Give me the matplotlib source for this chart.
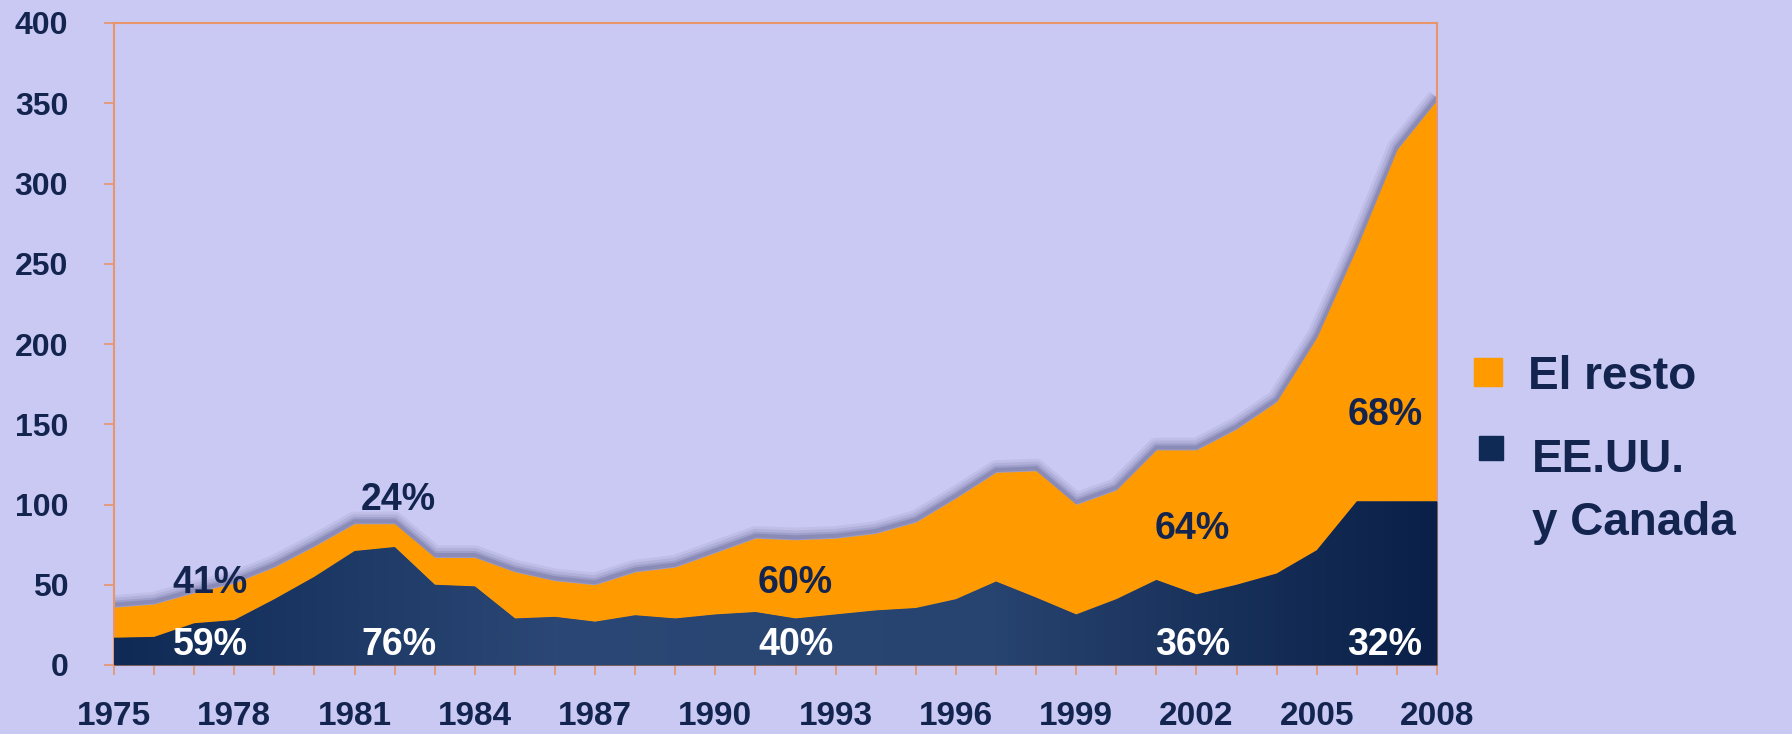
import numpy as np
import matplotlib
matplotlib.use('Agg')
import matplotlib.pyplot as plt
from matplotlib.colors import LinearSegmentedColormap

plt.rcParams['font.family'] = ['Liberation Sans', 'DejaVu Sans']
plt.rcParams['font.weight'] = 'bold'

years = list(range(1975, 2009))
# EE.UU. y Canada
usa = [17, 17.5, 26, 28, 41, 55, 71, 73.5, 50, 49, 29, 30, 27, 31, 29, 31.5, 33,
       29, 31.5, 34, 35.5, 41, 52, 42, 31.5, 41, 53, 44, 50, 57, 71.5, 102, 102, 102]
# total (top of orange area)
total = [36, 38, 45, 51, 61, 74, 88, 88, 67, 67, 58, 52.5, 50, 58, 61, 70, 79,
         78, 79, 82, 89, 104, 120, 121, 100, 109, 134, 134, 147, 164, 204, 260, 321, 352]

pct_dark = [('41%', 1977.4, 51), ('24%', 1982.1, 103), ('60%', 1992.0, 51),
            ('64%', 2001.9, 85), ('68%', 2006.7, 156)]
pct_white = [('59%', 1977.4, 12.5), ('76%', 1982.1, 12.5), ('40%', 1992.0, 12.5),
             ('36%', 2001.9, 12.5), ('32%', 2006.7, 12.5)]

bg = '#C9C9F3'
orange = '#FF9A00'
navy = '#0E2A55'
spine = '#E8956A'
textc = '#13254F'

fig = plt.figure(figsize=(17.92, 7.34), dpi=100, facecolor=bg)
ax = fig.add_axes([114/1792, 69/734, (1437-114)/1792, (665-23)/734])
ax.set_facecolor(bg)

# soft shadow along the top edge of the stack
top = np.array(total)
for lw, a in [(14, 0.10), (10, 0.14), (6, 0.2), (3, 0.3)]:
    ax.plot(years, top + 1.5, color='#5E5E8E', lw=lw, alpha=a,
            solid_joinstyle='round', solid_capstyle='butt', zorder=1)
ax.fill_between(years, usa, total, color=orange, lw=0, zorder=2)
navy_poly = ax.fill_between(years, 0, usa, color=navy, lw=0, zorder=3)

# horizontal gradient inside the navy area
cmap = LinearSegmentedColormap.from_list('nv', ['#0F2A55', '#2B4775', '#27436F', '#0A2048'])
grad = np.linspace(0, 1, 256).reshape(1, -1)
im = ax.imshow(grad, cmap=cmap, aspect='auto', extent=[1975, 2008, 0, 110],
               zorder=3.5, interpolation='bicubic')
im.set_clip_path(navy_poly.get_paths()[0], transform=ax.transData)

ax.set_xlim(1975, 2008)
ax.set_ylim(0, 400)
ax.set_yticks(range(0, 401, 50))
ax.set_xticks(range(1975, 2009, 3))
ax.set_xticks(years, minor=True)
for s in ax.spines.values():
    s.set_color(spine)
    s.set_linewidth(1.5)
ax.tick_params(axis='both', which='both', colors=spine, length=7, width=1.2)
ax.tick_params(axis='y', labelsize=23, labelcolor=textc, pad=26)
ax.tick_params(axis='x', labelsize=24, labelcolor=textc, pad=19)
for lab in ax.get_xticklabels() + ax.get_yticklabels():
    lab.set_fontweight('bold')

for t, x, y in pct_dark:
    ax.text(x, y, t, color=textc, fontsize=27, fontweight='bold',
            ha='center', va='center', zorder=5)
for t, x, y in pct_white:
    ax.text(x, y, t, color='white', fontsize=27, fontweight='bold',
            ha='center', va='center', zorder=5)

# legend
fig.patches.append(plt.Rectangle(((1488-14)/1792, 1-(372+14)/734), 28/1792, 28/734,
                                 transform=fig.transFigure, color=orange))
fig.patches.append(plt.Rectangle(((1491-12)/1792, 1-(448+12)/734), 24/1792, 24/734,
                                 transform=fig.transFigure, color=navy))
fig.text(1528/1792, 1-389/734, 'El resto', fontsize=33, fontweight='bold',
         color=textc, va='baseline', ha='left')
fig.text(1532/1792, 1-472/734, 'EE.UU.', fontsize=33, fontweight='bold',
         color=textc, va='baseline', ha='left')
fig.text(1532/1792, 1-535/734, 'y Canada', fontsize=33, fontweight='bold',
         color=textc, va='baseline', ha='left')

fig.savefig('out.png', dpi=100, facecolor=bg)
